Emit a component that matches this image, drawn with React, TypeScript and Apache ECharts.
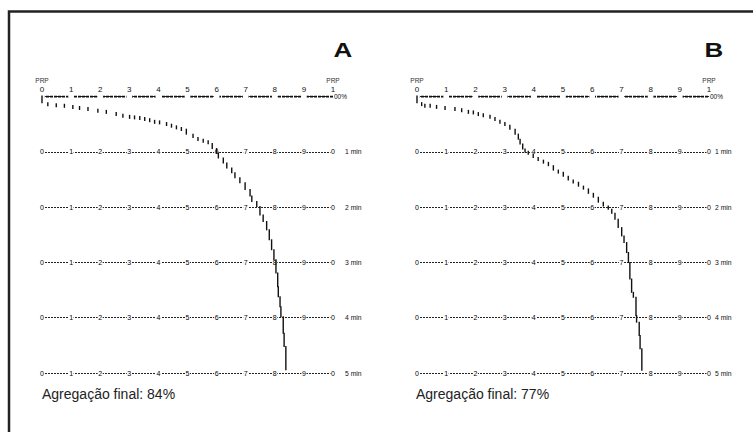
import React, { useEffect, useRef } from "react";
import * as echarts from "echarts";

const xTicks = [0, 10, 20, 30, 40, 50, 60, 70, 80, 90, 100];
const topTickLabels = ["0", "1", "2", "3", "4", "5", "6", "7", "8", "9", "1"];
const rowTickLabels = ["0", "1", "2", "3", "4", "5", "6", "7", "8", "9", "0"];
const rowTimes = [1, 2, 3, 4, 5];
const timeLabels = ["", "1 min", "2 min", "3 min", "4 min", "5 min"];
const endLabel = "PRP";
const percentSuffix = "00%";
const panelLetters = ["A", "B"];
const finalAggregation = [84, 77];
const finalText = "Agregação final: ";

// Panel A trace: aggregation (%) vs time (min)
const traceAPct = [0, 2.0, 4.9, 7.7, 10.6, 12.9, 15.8, 19.2, 22.1, 25.5, 27.8, 30.1, 31.8, 33.6, 35.3, 37.0, 38.7, 40.4, 42.8, 44.5, 46.2, 47.9, 49.6, 51.9, 53.6, 55.4, 57.1, 58.5, 60.0, 60.6, 62.3, 63.5, 65.2, 66.3, 68.0, 69.8, 71.5, 72.1, 73.8, 74.9, 76.0, 77.2, 78.1, 78.9, 79.7, 80.4, 81.0, 81.2, 81.8, 82.1, 82.9, 83.2, 83.8, 84.1];
const traceAMin = [0, 0.12, 0.14, 0.15, 0.17, 0.19, 0.21, 0.24, 0.26, 0.30, 0.33, 0.35, 0.36, 0.37, 0.39, 0.41, 0.44, 0.45, 0.48, 0.51, 0.54, 0.57, 0.60, 0.69, 0.75, 0.78, 0.81, 0.86, 0.95, 1.03, 1.12, 1.21, 1.30, 1.39, 1.48, 1.57, 1.69, 1.81, 1.91, 2.00, 2.15, 2.27, 2.42, 2.60, 2.78, 2.96, 3.20, 3.45, 3.63, 3.81, 3.99, 4.29, 4.53, 4.95];

// Panel B trace
const traceBPct = [0, 1.6, 2.7, 4.5, 6.7, 9.6, 13.0, 15.3, 17.6, 19.3, 21.0, 22.7, 25.0, 26.7, 28.4, 30.1, 31.8, 33.6, 34.7, 35.3, 36.2, 37.0, 38.1, 39.8, 41.5, 43.3, 45.0, 46.7, 48.4, 50.1, 51.8, 53.5, 55.3, 57.0, 58.7, 60.4, 62.1, 63.8, 65.5, 66.7, 67.8, 68.9, 70.1, 70.9, 71.8, 72.4, 72.9, 73.5, 74.1, 75.0, 75.2, 76.1, 76.4, 77.0, 77.2];
const traceBMin = [0, 0.12, 0.15, 0.15, 0.17, 0.19, 0.21, 0.23, 0.26, 0.27, 0.30, 0.32, 0.35, 0.39, 0.44, 0.48, 0.53, 0.60, 0.69, 0.78, 0.87, 0.96, 1.0, 1.05, 1.11, 1.16, 1.20, 1.26, 1.34, 1.38, 1.45, 1.52, 1.56, 1.63, 1.68, 1.76, 1.83, 1.92, 1.99, 2.05, 2.12, 2.23, 2.38, 2.53, 2.65, 2.83, 3.01, 3.31, 3.55, 3.64, 3.97, 4.09, 4.33, 4.57, 4.96];

const FONT = "Liberation Sans, Arial, sans-serif";

function buildPanel(idx: number, pct: number[], mins: number[]) {
  const xAxis = {
    type: "value",
    gridIndex: idx,
    position: "top",
    min: 0,
    max: 100,
    interval: 10,
    axisLine: { show: false },
    axisTick: { show: false },
    splitLine: { show: false },
    axisLabel: {
      interval: 0,
      margin: 3,
      color: "#111",
      fontFamily: FONT,
      formatter: (v: number) => {
        const i = Math.round(v / 10);
        const d = topTickLabels[i];
        return i === 0 || i === 10 ? `{p|${endLabel}}\n{d|${d}}` : `{d|${d}}`;
      },
      rich: {
        p: { fontSize: 6.5, lineHeight: 9, color: "#333", fontFamily: FONT },
        d: { fontSize: 8, lineHeight: 9, color: "#111", fontFamily: FONT },
      },
    },
  };
  const yAxis = {
    type: "value",
    gridIndex: idx,
    position: "right",
    inverse: true,
    min: 0,
    max: 5,
    interval: 1,
    axisLine: { show: false },
    axisTick: { show: false },
    splitLine: { show: true, lineStyle: { color: "#222", width: 1, type: [2, 1] } },
    axisLabel: {
      margin: idx === 0 ? 12 : 6,
      fontSize: 6.8,
      color: "#111",
      fontFamily: FONT,
      formatter: (v: number) => timeLabels[Math.round(v)] || "",
    },
  };
  const topLine = {
    type: "line",
    xAxisIndex: idx,
    yAxisIndex: idx,
    z: 3,
    symbol: "emptyCircle",
    symbolSize: [4, 5],
    itemStyle: { color: "#fff", borderColor: "#111", borderWidth: 1 },
    lineStyle: { color: "#111", width: 2, type: [3, 1] },
    endLabel: {
      show: true,
      formatter: percentSuffix,
      distance: 1,
      fontSize: 6.5,
      color: "#111",
      fontFamily: FONT,
    },
    data: xTicks.map((x, i) =>
      i === xTicks.length - 1 ? { value: [x, 0], symbolSize: 0 } : { value: [x, 0] }
    ),
  };
  const rowDigits = {
    type: "scatter",
    xAxisIndex: idx,
    yAxisIndex: idx,
    z: 4,
    symbol: "rect",
    symbolSize: [5, 6],
    itemStyle: { color: "#fff", opacity: 1 },
    label: {
      show: true,
      position: "inside",
      rotate: 0.02,
      fontSize: 7,
      color: "#000",
      fontFamily: FONT,
      formatter: (p: any) => p.value[2],
    },
    data: rowTimes.flatMap((t) => xTicks.map((x, i) => [x, t, rowTickLabels[i]])),
  };
  const trace = {
    type: "custom",
    xAxisIndex: idx,
    yAxisIndex: idx,
    z: 5,
    encode: { x: 0, y: 1 },
    data: pct.map((p, i) => [p, mins[i]]),
    renderItem: (params: any, api: any) => {
      const i = params.dataIndex;
      if (i >= pct.length - 1) return { type: "group", children: [] };
      const a = api.coord([pct[i], mins[i]]);
      const b = api.coord([pct[i], mins[i + 1]]);
      const y1 = a[1] - 1;
      const y2 = Math.max(b[1], a[1] + 3);
      return {
        type: "line",
        shape: { x1: a[0], y1, x2: a[0], y2 },
        style: { stroke: "#111", lineWidth: 1.4 },
      };
    },
  };
  return { xAxis, yAxis, series: [topLine, rowDigits, trace] };
}

export default function App() {
  const ref = useRef<HTMLDivElement>(null);
  useEffect(() => {
    if (!ref.current) return;
    const chart = echarts.init(ref.current, null, { renderer: "svg" });
    const pA = buildPanel(0, traceAPct, traceAMin);
    const pB = buildPanel(1, traceBPct, traceBMin);
    const letterPos = [
      [343, 50.4],
      [714, 50],
    ];
    const finalPos = [42, 416];
    chart.setOption({
      animation: false,
      backgroundColor: "#fff",
      grid: [
        { left: 42, top: 96.5, width: 291, height: 276.5 },
        { left: 417, top: 96.5, width: 292, height: 276.5 },
      ],
      xAxis: [pA.xAxis, pB.xAxis],
      yAxis: [pA.yAxis, pB.yAxis],
      series: [...pA.series, ...pB.series],
      graphic: [
        {
          type: "rect",
          shape: { x: 9, y: 11.5, width: 1000, height: 1000 },
          style: { fill: "none", stroke: "#222", lineWidth: 2.5 },
          silent: true,
        },
        ...panelLetters.map((l, i) => ({
          type: "text",
          x: letterPos[i][0],
          y: letterPos[i][1],
          scaleX: 1.3,
          style: {
            text: l,
            fontSize: 20,
            fontWeight: "bold",
            fontFamily: FONT,
            fill: "#111",
            align: "center",
            verticalAlign: "middle",
          },
        })),
        ...finalAggregation.map((v, i) => ({
          type: "text",
          x: finalPos[i],
          y: 393.5,
          style: {
            text: `${finalText}${v}%`,
            fontSize: 14,
            fontFamily: FONT,
            fill: "#222",
            align: "left",
            verticalAlign: "middle",
          },
        })),
      ],
    });
    return () => chart.dispose();
  }, []);
  return (
    <div
      ref={ref}
      style={{ position: "absolute", left: 0, top: 0, width: 753, height: 432, background: "#fff" }}
    />
  );
}
